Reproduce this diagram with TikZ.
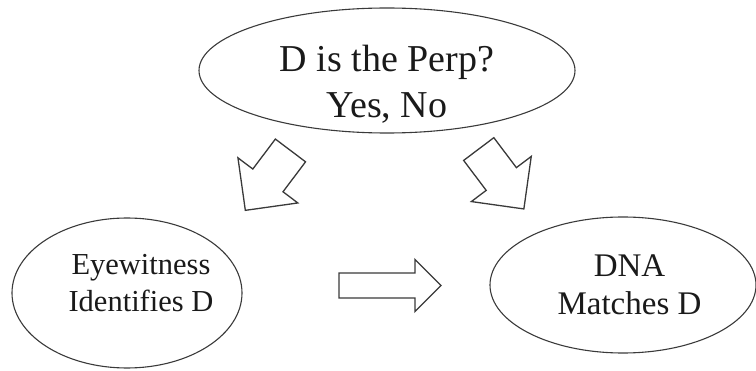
\documentclass[tikz,border=0pt]{standalone}
\usepackage{fontspec}
\setmainfont{Liberation Serif}
\usetikzlibrary{shapes.geometric,calc}
\definecolor{CaseInk}{HTML}{1A1A1A}
\definecolor{CaseLine}{HTML}{3A3A3A}
\tikzset{
  every node/.style={text=CaseInk},
  bubble/.style={draw=CaseLine, line width=1.1pt, ellipse, inner sep=0pt},
  blockarrow/.style={draw=CaseLine, line width=1.3pt, fill=white, line join=miter},
  toplabel/.style={align=center, font=\fontsize{38}{46}\selectfont},
  eyelabel/.style={align=center, font=\fontsize{30.5}{37}\selectfont},
  dnalabel/.style={align=center, font=\fontsize{33}{38}\selectfont},
}
% hollow block arrow: centre, angle, half length, head length, shaft half width, head half width
\newcommand{\hollowarrow}[6]{%
  \draw[blockarrow, shift={#1}, rotate=#2]
    (-#3,-#5) -- ({#3-#4},-#5) -- ({#3-#4},-#6) -- (#3,0)
    -- ({#3-#4},#6) -- ({#3-#4},#5) -- (-#3,#5) -- cycle;}

\begin{document}
\begin{tikzpicture}[x=1pt,y=1pt]
  \useasboundingbox (0,0) rectangle (756,370);

  % Hypothesis at the top
  \node[bubble, minimum width=376, minimum height=125] (perp) at (387,299.5) {};
  \node[toplabel] (perptext) at ($(perp.center)+(0,-14)$) {D is the Perp?\\Yes, No};

  % Two pieces of evidence
  \node[bubble, minimum width=230, minimum height=150] (eye) at (127,77) {};
  \node[eyelabel] (eyetext) at (141,86.5) {Eyewitness\\Identifies D};
  \node[bubble, minimum width=266, minimum height=136] (dna) at (623,85) {};
  \node[dnalabel] (dnatext) at (629.5,85) {DNA\\Matches D};

  % Block arrows between them
  \coordinate (toeye) at (267.9,189.6);
  \coordinate (todna) at (501.3,191);
  \coordinate (across) at (390,84.5);
  \hollowarrow{(toeye)}{233}{37.5}{37.5}{18.9}{37.5}
  \hollowarrow{(todna)}{-53}{37.5}{37.5}{18.9}{37.5}
  \hollowarrow{(across)}{0}{51}{26}{12.5}{26}
\end{tikzpicture}
\end{document}
